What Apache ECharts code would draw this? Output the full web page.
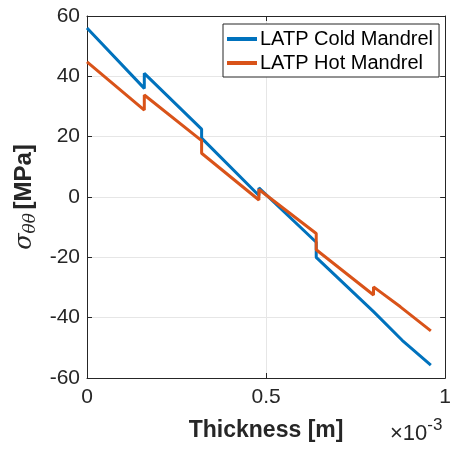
<!DOCTYPE html>
<html>
<head>
<meta charset="utf-8">
<script src="https://cdn.jsdelivr.net/npm/echarts@6/dist/echarts.min.js"></script>
<style>
  html, body { margin: 0; padding: 0; background: #fff; }
  #main { width: 454px; height: 450px; }
</style>
</head>
<body>
<div id="main"></div>
<script>
// thickness in units of 1e-3 m
var coldX = [0, 0.16, 0.16, 0.32, 0.32, 0.48, 0.48, 0.64, 0.64, 0.80, 0.80, 0.88, 0.96]
var coldY = [56, 36, 41, 22.5, 19.5, 0.5, 3, -15, -20, -38, -38.5, -47.5, -55.7]
var hotX = [0, 0.16, 0.16, 0.32, 0.32, 0.48, 0.48, 0.64, 0.64, 0.80, 0.80, 0.875, 0.96]
var hotY = [44.8, 28.8, 33.8, 18.7, 14.5, -1, 2.5, -12.1, -17.5, -32.5, -29.8, -36.4, -44.4]
var xTicks = [0, 0.5, 1]
var yTicks = [-60, -40, -20, 0, 20, 40, 60]

var font = 'Liberation Sans, Arial, sans-serif'
var txt = '#262626'

function pairs (xs, ys) {
  return xs.map(function (x, i) { return [x, ys[i]] })
}

var myChart = echarts.init(document.getElementById('main'))
var option = {
  animation: false,
  color: ['#0072BD', '#D95319'],
  grid: { left: 87, right: 6, top: 16, bottom: 72 },
  legend: {
    orient: 'vertical',
    left: 223,
    top: 24,
    padding: [5, 6, 4, 4],
    itemGap: 4,
    itemWidth: 30,
    itemHeight: 4,
    icon: 'rect',
    borderColor: '#262626',
    borderWidth: 1,
    backgroundColor: '#fff',
    textStyle: { fontFamily: font, fontSize: 20, color: '#000', padding: [0, 0, 0, -2] },
    data: ['LATP Cold Mandrel', 'LATP Hot Mandrel']
  },
  xAxis: [
    {
      type: 'value', min: 0, max: 1, interval: 0.5,
      name: 'Thickness [m]', nameLocation: 'middle', nameGap: 41,
      nameTextStyle: { fontFamily: font, fontSize: 23, fontWeight: 'bold', color: txt },
      axisLine: { onZero: false, lineStyle: { color: '#262626', width: 1 } },
      axisTick: { inside: true, length: 5, lineStyle: { color: '#262626' } },
      axisLabel: {
        fontFamily: font, fontSize: 21, color: txt, margin: 9,
        formatter: function (v) { return xTicks.indexOf(v) >= 0 ? String(v) : '' }
      },
      splitLine: { show: true, lineStyle: { color: '#e6e6e6' } }
    },
    {
      type: 'value', min: 0, max: 1, interval: 0.5, position: 'top',
      axisLine: { show: true, onZero: false, lineStyle: { color: '#262626', width: 1 } },
      axisTick: { show: true, inside: true, length: 5, lineStyle: { color: '#262626' } },
      axisLabel: { show: false },
      splitLine: { show: false }
    }
  ],
  yAxis: [
    {
      type: 'value', min: -60, max: 60, interval: 20,
      name: '{s|σ}{sub|θθ} {b|[MPa]}', nameLocation: 'middle', nameGap: 46,
      nameTextStyle: {
        color: txt,
        rich: {
          s: { fontFamily: 'DejaVu Serif, serif', fontStyle: 'italic', fontSize: 24, color: txt, lineHeight: 28, verticalAlign: 'middle' },
          sub: { fontFamily: 'DejaVu Serif, serif', fontStyle: 'italic', fontSize: 17, color: txt, lineHeight: 28, verticalAlign: 'bottom' },
          b: { fontFamily: font, fontSize: 24, fontWeight: 'bold', color: txt, lineHeight: 28, verticalAlign: 'middle' }
        }
      },
      axisLine: { show: true, onZero: false, lineStyle: { color: '#262626', width: 1 } },
      axisTick: { show: true, inside: true, length: 5, lineStyle: { color: '#262626' } },
      axisLabel: {
        fontFamily: font, fontSize: 21, color: txt, margin: 7,
        formatter: function (v) { return yTicks.indexOf(v) >= 0 ? String(v) : '' }
      },
      splitLine: { show: true, lineStyle: { color: '#e6e6e6' } }
    },
    {
      type: 'value', min: -60, max: 60, interval: 20, position: 'right',
      axisLine: { show: true, onZero: false, lineStyle: { color: '#262626', width: 1 } },
      axisTick: { show: true, inside: true, length: 5, lineStyle: { color: '#262626' } },
      axisLabel: { show: false },
      splitLine: { show: false }
    }
  ],
  graphic: [
    {
      type: 'text', left: 390, top: 417, z: 10,
      style: {
        text: '{m|×10}{e|-3}',
        rich: {
          m: { fontFamily: font, fontSize: 22, fill: txt, lineHeight: 28, verticalAlign: 'bottom' },
          e: { fontFamily: font, fontSize: 17, fill: txt, lineHeight: 28, verticalAlign: 'top' }
        }
      }
    }
  ],
  series: [
    {
      name: 'LATP Cold Mandrel', type: 'line', showSymbol: false, symbol: 'none',
      lineStyle: { width: 3 },
      data: pairs(coldX, coldY)
    },
    {
      name: 'LATP Hot Mandrel', type: 'line', showSymbol: false, symbol: 'none',
      lineStyle: { width: 3 },
      data: pairs(hotX, hotY)
    }
  ]
}
myChart.setOption(option)
</script>
</body>
</html>
